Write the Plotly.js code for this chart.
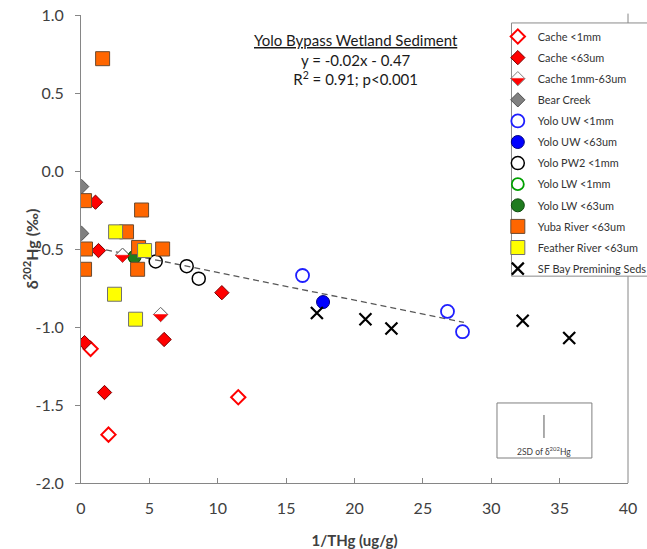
<!DOCTYPE html>
<html>
<head>
<meta charset="utf-8">
<script src="https://cdn.plot.ly/plotly-3.0.1.min.js"></script>
<style>html,body{margin:0;padding:0;background:#fff;overflow:hidden;}#chart{width:700px;height:549px;}</style>
</head>
<body>
<div id="chart"></div>
<script>
// ---- data ----
const cache1mmX = [0.70, 2.01, 11.5];
const cache1mmY = [-1.14, -1.69, -1.45];
const cache63X = [0.26, 1.72, 6.08, 10.3, 1.06, 1.28];
const cache63Y = [-1.10, -1.42, -1.08, -0.78, -0.20, -0.51];
const cacheMidX = [3.04, 5.82];
const cacheMidY = [-0.54, -0.92];
const bearX = [0.05, 0.05];
const bearY = [-0.10, -0.40];
const uw1mmX = [16.2, 26.8, 27.9];
const uw1mmY = [-0.67, -0.90, -1.03];
const uw63X = [17.7];
const uw63Y = [-0.84];
const pw2X = [5.46, 7.73, 8.61];
const pw2Y = [-0.58, -0.61, -0.69];
const lw1mmX = [3.9];
const lw1mmY = [-0.55];
const lw63X = [3.92];
const lw63Y = [-0.55];
const yubaX = [0.26, 4.43, 3.33, 0.33, 4.21, 5.97, 0.26, 4.14, 1.58];
const yubaY = [-0.19, -0.25, -0.39, -0.50, -0.49, -0.50, -0.63, -0.63, 0.72];
const featherX = [2.53, 4.65, 2.45, 3.99];
const featherY = [-0.39, -0.51, -0.79, -0.95];
const sfX = [17.25, 20.8, 22.7, 32.3, 35.7];
const sfY = [-0.91, -0.95, -1.01, -0.96, -1.07];
const trendX = [0.4, 28.0];
const trendY = [-0.48, -0.97];
const xTicks = [0, 5, 10, 15, 20, 25, 30, 35, 40];
const yTicks = [-2.0, -1.5, -1.0, -0.5, 0.0, 0.5, 1.0];

const FONT = 'Lato, "Open Sans", sans-serif';
const TXT = '#404040';

function pts(name, x, y, marker, extra) {
  return Object.assign({type: 'scatter', mode: 'markers', name: name, x: x, y: y, marker: marker,
          legendgroup: name, hoverinfo: 'x+y'}, extra || {});
}

const midMarkerLine = {width: 1, color: '#808080'};

const traces = [
  {type: 'scatter', mode: 'lines', x: trendX, y: trendY, showlegend: false,
   line: {color: '#595959', width: 1.3, dash: '6px,4px'}, hoverinfo: 'skip'},
  pts('Cache <1mm', cache1mmX, cache1mmY, {symbol: 'diamond-open', size: 11, color: '#FF0000', line: {width: 2, color: '#FF0000'}}),
  pts('Cache <63um', cache63X, cache63Y, {symbol: 'diamond', size: 11, color: '#FF0000', line: {width: 1, color: '#7a0000'}}),
  // white body of the half-filled diamonds
  pts('Cache 1mm-63um', cacheMidX, cacheMidY, {symbol: 'diamond', size: 11, color: '#FFFFFF', line: midMarkerLine}, {showlegend: false}),
  // same points, outline only: gives the legend entry (its red lower half is a shape under the legend)
  pts('Cache 1mm-63um', cacheMidX, cacheMidY, {symbol: 'diamond', size: 11, color: 'rgba(255,255,255,0)', line: midMarkerLine}),
  pts('Bear Creek', bearX, bearY, {symbol: 'diamond', size: 11, color: '#808080', line: {width: 1, color: '#505050'}}),
  pts('Yolo UW <1mm', uw1mmX, uw1mmY, {symbol: 'circle-open', size: 13, color: '#1F1FFF', line: {width: 1.8, color: '#1F1FFF'}}),
  pts('Yolo UW <63um', uw63X, uw63Y, {symbol: 'circle', size: 13, color: '#0000FF', line: {width: 1, color: '#000080'}}),
  pts('Yolo PW2 <1mm', pw2X, pw2Y, {symbol: 'circle-open', size: 13, color: '#000000', line: {width: 1.5, color: '#000000'}}),
  pts('Yolo LW <1mm', lw1mmX, lw1mmY, {symbol: 'circle-open', size: 12, color: '#00A000', line: {width: 1.8, color: '#00A000'}}),
  pts('Yolo LW <63um', lw63X, lw63Y, {symbol: 'circle', size: 13, color: '#1E7B1E', line: {width: 1, color: '#0E4A0E'}}),
  pts('Yuba River <63um', yubaX, yubaY, {symbol: 'square', size: 14, color: '#FF6600', line: {width: 1, color: '#6b4a30'}}),
  pts('Feather River <63um', featherX, featherY, {symbol: 'square', size: 14, color: '#FFFF00', line: {width: 1, color: '#707070'}}),
  pts('SF Bay Premining Seds', sfX, sfY, {symbol: 'x-thin-open', size: 12, color: '#000000', line: {width: 2.2, color: '#000000'}})
];

const HALF = 'M-7,0 L7,0 L0,-7 Z';
// bottom-half red fill of the half-filled diamonds, anchored to the data points
const halfShapes = cacheMidX.map((xv, i) => ({
  type: 'path', xref: 'x', yref: 'y', xsizemode: 'pixel', ysizemode: 'pixel',
  xanchor: xv, yanchor: cacheMidY[i], path: HALF,
  fillcolor: '#FF0000', line: {width: 0.5, color: '#FF0000'}, layer: 'above'
}));

const layout = {
  width: 700, height: 549,
  margin: {l: 81, r: 72, t: 15, b: 66},
  paper_bgcolor: '#FFFFFF', plot_bgcolor: '#FFFFFF',
  font: {family: FONT, color: TXT, size: 14},
  showlegend: true,
  legend: {x: 0.762, y: 0.985, xanchor: 'left', yanchor: 'top',
           bgcolor: 'rgba(0,0,0,0)', borderwidth: 0,
           font: {family: FONT, size: 10.9, color: '#333333'}, tracegroupgap: 2.1},
  xaxis: {range: [0, 40], tickvals: xTicks, ticktext: xTicks.map(String),
          showgrid: false, zeroline: false, showline: true, linecolor: '#868686', linewidth: 1,
          ticks: 'inside', ticklen: 5, tickcolor: '#868686', ticklabelstandoff: 11,
          tickfont: {family: FONT, size: 16, color: TXT}, mirror: false,
          title: {text: '<b>1/THg (ug/g)</b>', font: {family: FONT, size: 15, color: TXT}, standoff: 20}},
  yaxis: {range: [-2, 1], tickvals: yTicks, ticktext: yTicks.map(v => v.toFixed(1)),
          showgrid: false, zeroline: false, showline: true, linecolor: '#868686', linewidth: 1,
          ticks: 'outside', ticklen: 5, tickcolor: '#868686', ticklabelstandoff: 8,
          tickfont: {family: FONT, size: 16, color: TXT}, mirror: false},
  shapes: halfShapes.concat([
    // right frame line of the plot area
    {type: 'line', xref: 'paper', yref: 'paper', x0: 1, x1: 1, y0: 0, y1: 1.003,
     line: {color: '#868686', width: 1}, layer: 'above'},
    // legend frame
    {type: 'rect', xref: 'paper', yref: 'paper', x0: 0.787, x1: 1.1, y0: 0.442, y1: 0.983,
     fillcolor: '#FFFFFF', line: {color: '#8a8a8a', width: 1}, layer: 'above'},
    // red lower half of the legend symbol for "Cache 1mm-63um"
    {type: 'path', xref: 'paper', yref: 'paper', xsizemode: 'pixel', ysizemode: 'pixel',
     xanchor: 0.7985, yanchor: 0.8645, path: HALF,
     fillcolor: '#FF0000', line: {width: 0.5, color: '#FF0000'}, layer: 'above'},
    // 2SD box
    {type: 'rect', xref: 'paper', yref: 'paper', x0: 0.7605, x1: 0.934, y0: 0.0534, y1: 0.171,
     fillcolor: 'rgba(0,0,0,0)', line: {color: '#7f7f7f', width: 1}},
    {type: 'line', xref: 'paper', yref: 'paper', x0: 0.8464, x1: 0.8464, y0: 0.0962, y1: 0.1453,
     line: {color: '#595959', width: 1}}
  ]),
  annotations: [
    {xref: 'paper', yref: 'paper', x: 0.502, y: 0.97, xanchor: 'center', yanchor: 'top', showarrow: false,
     align: 'center',
     text: '<u>Yolo Bypass Wetland Sediment</u><br>y = -0.02x - 0.47<br>R<sup>2</sup> = 0.91; p&lt;0.001',
     font: {family: FONT, size: 15, color: '#1a1a1a'}},
    // y-axis title
    {xref: 'paper', yref: 'paper', x: -0.093, y: 0.5, xanchor: 'center', yanchor: 'middle', showarrow: false,
     textangle: -90, text: '<b>δ<sup>202</sup>Hg (‰)</b>', font: {family: FONT, size: 16, color: TXT}},
    {xref: 'paper', yref: 'paper', x: 0.8464, y: 0.068, xanchor: 'center', yanchor: 'middle', showarrow: false,
     text: '2SD of δ<sup>202</sup>Hg', font: {family: FONT, size: 8.5, color: TXT}}
  ]
};

Plotly.newPlot('chart', traces, layout, {displayModeBar: false, staticPlot: true});
</script>
</body>
</html>
